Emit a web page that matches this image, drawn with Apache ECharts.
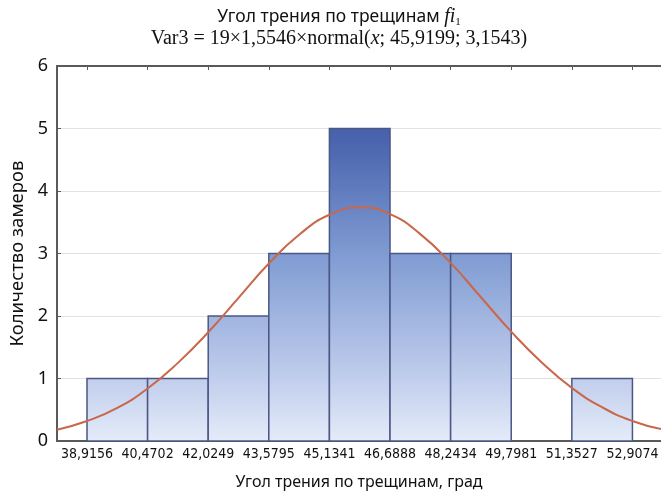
<!DOCTYPE html>
<html><head><meta charset="utf-8">
<script src="https://cdn.jsdelivr.net/npm/echarts@6/dist/echarts.min.js"></script>
<style>html,body{margin:0;padding:0;background:#fff}#c{width:661px;height:496px}</style>
</head><body><div id="c"></div>
<script>
// Bin edges (tick labels) and counts
const binEdges = [38.9156, 40.4702, 42.0249, 43.5795, 45.1341, 46.6888, 48.2434, 49.7981, 51.3527, 52.9074];
const tickLabels = ['38,9156','40,4702','42,0249','43,5795','45,1341','46,6888','48,2434','49,7981','51,3527','52,9074'];
const counts = [1, 1, 2, 3, 5, 3, 3, 0, 1];
// Fitted curve points
const curveX = [38.146, 38.9156, 39.693, 40.4702, 41.2476, 42.0249, 42.802, 43.5795, 44.357, 45.1341, 45.92, 46.6888, 47.466, 48.2434, 49.021, 49.7981, 50.575, 51.3527, 52.13, 52.9074, 53.64];
const curveY = [0.18, 0.32, 0.53, 0.84, 1.25, 1.74, 2.29, 2.84, 3.30, 3.62, 3.74, 3.63, 3.31, 2.85, 2.30, 1.75, 1.26, 0.85, 0.54, 0.32, 0.19];

const barData = counts.map((c, i) => [binEdges[i], binEdges[i + 1], c]);
const curveData = curveX.map((x, i) => [x, curveY[i]]);

const chart = echarts.init(document.getElementById('c'));
const axisCol = '#5a5a5a';
chart.setOption({
  animation: false,
  backgroundColor: '#fff',
  grid: { left: 57, right: 0, top: 66, bottom: 55, outerBoundsMode: 'none' },
  graphic: [
    { type: 'text', x: 339, y: 17, style: {
      text: '{a|Угол трения по трещинам }{fi|fi}{sub|1}', align: 'center', verticalAlign: 'middle',
      rich: {
        a: { fontFamily: 'Noto Sans', fontSize: 17.5, fill: '#111' },
        fi: { fontFamily: 'Liberation Serif', fontStyle: 'italic', fontSize: 20, fill: '#111' },
        sub: { fontFamily: 'Liberation Serif', fontSize: 11, fill: '#111', padding: [11, 0, 0, 0] }
      } } },
    { type: 'text', x: 339, y: 39, style: {
      text: '{b|Var3 = 19×1,5546×normal(}{bi|x}{b|; 45,9199; 3,1543)}', align: 'center', verticalAlign: 'middle',
      rich: {
        b: { fontFamily: 'Liberation Serif', fontSize: 20, fill: '#111' },
        bi: { fontFamily: 'Liberation Serif', fontStyle: 'italic', fontSize: 20, fill: '#111' }
      } } }
  ],
  xAxis: [{
    type: 'value', min: 38.146, max: 53.64, position: 'bottom',
    name: 'Угол трения по трещинам, град', nameLocation: 'middle', nameGap: 33,
    nameTextStyle: { fontFamily: 'Noto Sans', fontSize: 16, color: '#111' },
    axisLine: { show: true, onZero: false, lineStyle: { color: axisCol, width: 2 } },
    axisTick: { show: true, inside: true, length: 4, customValues: binEdges, lineStyle: { color: axisCol } },
    axisLabel: { customValues: binEdges, margin: 6,
      formatter: v => { const i = binEdges.findIndex(e => Math.abs(e - v) < 1e-6); return i >= 0 ? tickLabels[i] : ''; },
      fontFamily: '"DejaVu Sans Condensed", "Liberation Sans", sans-serif', fontSize: 14, color: '#111' },
    splitLine: { show: false }
  }, {
    type: 'value', min: 38.146, max: 53.64, position: 'top',
    axisLine: { show: true, onZero: false, lineStyle: { color: axisCol, width: 2 } },
    axisTick: { show: true, inside: true, length: 4, customValues: binEdges, lineStyle: { color: axisCol } },
    axisLabel: { show: false }, splitLine: { show: false }
  }],
  yAxis: {
    type: 'value', min: 0, max: 6, interval: 1,
    name: 'Количество замеров', nameLocation: 'middle', nameGap: 30,
    nameTextStyle: { fontFamily: 'Noto Sans', fontSize: 18.5, color: '#111' },
    axisLine: { show: true, lineStyle: { color: axisCol, width: 2 } },
    axisTick: { show: true, inside: true, length: 4, lineStyle: { color: axisCol } },
    axisLabel: { fontFamily: 'Noto Sans', fontSize: 18, color: '#111', margin: 9 },
    splitLine: { show: true, lineStyle: { color: '#e2e2e2', width: 1 } }
  },
  series: [{
    type: 'custom', xAxisIndex: 0,
    renderItem: (params, api) => {
      const p0 = api.coord([api.value(0), api.value(2)]);
      const p1 = api.coord([api.value(1), 0]);
      const top = api.coord([38.146, 6])[1], bot = api.coord([38.146, 0])[1];
      if (api.value(2) <= 0) return null;
      return {
        type: 'rect',
        shape: { x: p0[0], y: p0[1], width: p1[0] - p0[0], height: p1[1] - p0[1] },
        style: {
          fill: new echarts.graphic.LinearGradient(0, top, 0, bot, [
            { offset: 0, color: '#3b53a2' },
            { offset: 0.2, color: '#4a64ae' },
            { offset: 0.5, color: '#7f9bd2' },
            { offset: 0.83, color: '#c0cdec' },
            { offset: 1, color: '#e4ecf9' }
          ], true),
          stroke: '#4b5785', lineWidth: 1.5
        }
      };
    },
    encode: { x: [0, 1], y: 2 },
    data: barData, z: 2
  }, {
    type: 'line', xAxisIndex: 0, data: curveData, smooth: true, showSymbol: false,
    lineStyle: { color: '#c9674b', width: 2 }, z: 3
  }]
});
</script></body></html>
